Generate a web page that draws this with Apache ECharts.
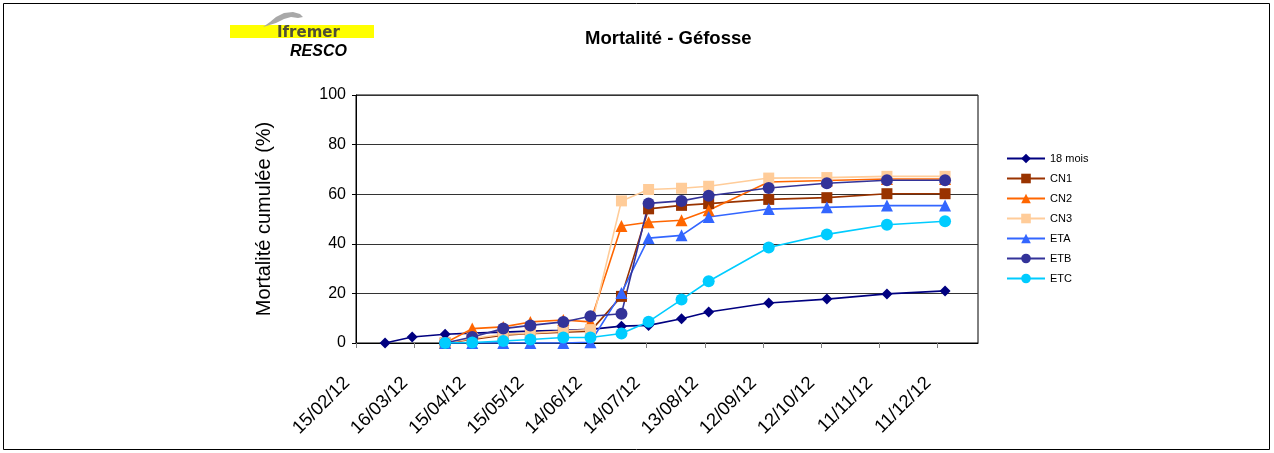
<!DOCTYPE html>
<html><head><meta charset="utf-8">
<script src="https://cdn.jsdelivr.net/npm/echarts@6/dist/echarts.min.js"></script>
<style>html,body{margin:0;padding:0;background:#fff}#c{width:1274px;height:453px}</style>
</head><body><div id="c"></div>
<script>
// ---- data ----
const tickLabels = ['15/02/12','16/03/12','15/04/12','15/05/12','14/06/12','14/07/12','13/08/12','12/09/12','12/10/12','11/11/12','11/12/12'];
const dates18mois = ['01/03/12','15/03/12','01/04/12','15/04/12','01/05/12','15/05/12','01/06/12','15/06/12','01/07/12','15/07/12','01/08/12','15/08/12','15/09/12','15/10/12','15/11/12','15/12/12'];
const datesLots = ['01/04/12','15/04/12','01/05/12','15/05/12','01/06/12','15/06/12','01/07/12','15/07/12','01/08/12','15/08/12','15/09/12','15/10/12','15/11/12','15/12/12'];
const mois18 = [0,2.4,3.5,4.0,4.4,4.8,5.1,5.5,6.8,7.1,9.8,12.5,16.1,17.7,19.8,21.0];
const cn1 = [0,1.4,3.1,3.8,4.4,4.8,18.8,54.1,55.5,56.2,57.9,58.6,60.2,60.2];
const cn2 = [0,5.8,6.5,8.5,9.3,8.5,47.2,48.7,49.5,53.5,64.9,65.5,66.1,66.1];
const cn3 = [0,1.8,3.5,4.0,4.8,5.4,57.3,61.9,62.4,63.2,66.5,66.7,67.2,67.2];
const eta = [0,0,0,0,0,0.3,20.2,42.3,43.4,50.8,54.0,54.7,55.4,55.4];
const etb = [0,2.4,5.8,7.1,8.5,10.8,11.8,56.3,57.3,59.4,62.5,64.4,65.6,65.6];
const etc = [0,0.2,0.8,1.4,2.2,2.2,3.8,8.6,17.5,24.9,38.5,43.8,47.7,49.1];
const yTicks = [0,20,40,60,80,100];

// ---- helpers ----
function parseD(s){const p=s.split('/');return Date.UTC(2000+ +p[2], +p[1]-1, +p[0]);}
const T0 = parseD(tickLabels[0]);
const DAY = 86400000;
function dayOf(s){return Math.round((parseD(s)-T0)/DAY);}
function fmt(v){const d=new Date(T0+v*DAY);const p=n=>String(n).padStart(2,'0');return p(d.getUTCDate())+'/'+p(d.getUTCMonth()+1)+'/'+p(d.getUTCFullYear()%100);}
function pts(dates, vals){return dates.map((d,i)=>[dayOf(d), vals[i]]);}
const tickDays = tickLabels.map(dayOf);

const FONT = '"Liberation Sans", Arial, sans-serif';
function mk(name, dates, vals, color, symbol, size){
  return {name, type:'line', data: pts(dates, vals), symbol, symbolSize: size,
    lineStyle:{color, width:1.6}, itemStyle:{color, borderWidth:0}, z:2, animation:false};
}

const chart = echarts.init(document.getElementById('c'));
chart.setOption({
  animation:false,
  backgroundColor:'#fff',
  title:{text:'Mortalité - Géfosse', left:580, top:24,
    textStyle:{fontFamily:FONT, fontWeight:'bold', fontSize:18.5, color:'#000'}},
  grid:{left:356, top:95, right:296, bottom:110, show:true, borderColor:'#000', borderWidth:1, containLabel:false},
  legend:{orient:'vertical', left:1001, top:148, itemWidth:38, itemHeight:12, itemGap:9,
    textStyle:{fontFamily:FONT, fontSize:11, color:'#000'},
    data:['18 mois','CN1','CN2','CN3','ETA','ETB','ETC']},
  xAxis:{type:'value', min:0, max:321,
    axisLine:{show:true, onZero:false, lineStyle:{color:'#000', width:1}},
    axisTick:{show:true, customValues:tickDays, length:5, lineStyle:{color:'#808080'}},
    axisLabel:{customValues:tickDays, rotate:45, margin:28, padding:[0,13,0,0], formatter:fmt,
      fontFamily:FONT, fontSize:18.5, color:'#000'},
    splitLine:{show:false}},
  yAxis:{type:'value', min:yTicks[0], max:yTicks[yTicks.length-1], interval:20,
    name:'Mortalité cumulée (%)', nameLocation:'middle', nameGap:82, nameRotate:90,
    nameTextStyle:{fontFamily:FONT, fontSize:20, color:'#000'},
    axisLine:{show:true, lineStyle:{color:'#000'}},
    axisTick:{show:true, length:4, lineStyle:{color:'#000'}},
    axisLabel:{fontFamily:FONT, fontSize:16, color:'#000', margin:10},
    splitLine:{show:true, lineStyle:{color:'#333', width:1}}},
  series:[
    mk('18 mois', dates18mois, mois18, '#000080', 'diamond', 11),
    mk('CN1', datesLots, cn1, '#993300', 'rect', 11),
    mk('CN2', datesLots, cn2, '#ff6600', 'triangle', 12),
    mk('CN3', datesLots, cn3, '#ffcc99', 'rect', 11),
    mk('ETA', datesLots, eta, '#3366ff', 'triangle', 12),
    mk('ETB', datesLots, etb, '#333399', 'circle', 12),
    mk('ETC', datesLots, etc, '#00ccff', 'circle', 12)
  ],
  graphic:[
    {type:'rect', shape:{x:3.5, y:3.5, width:1266, height:446}, style:{fill:'none', stroke:'#000', lineWidth:1}, silent:true},
    {type:'rect', shape:{x:230, y:25, width:144, height:13}, style:{fill:'#ffff00'}, silent:true},
    {type:'polygon', shape:{points:[[263,27],[270,22],[276,17],[284,13],[293,12],[300,14],[303,17],[298,18],[291,17],[284,19],[276,23]]}, style:{fill:'#a8a8a8'}, silent:true},
    {type:'text', x:277, y:26, style:{text:'Ifremer', fill:'#4f4f36', font:'bold 15px "DejaVu Sans", sans-serif'}, silent:true},
    {type:'text', x:290, y:44, style:{text:'RESCO', fill:'#000', font:'italic bold 16px "Liberation Sans", Arial, sans-serif'}, silent:true}
  ]
});
</script></body></html>
